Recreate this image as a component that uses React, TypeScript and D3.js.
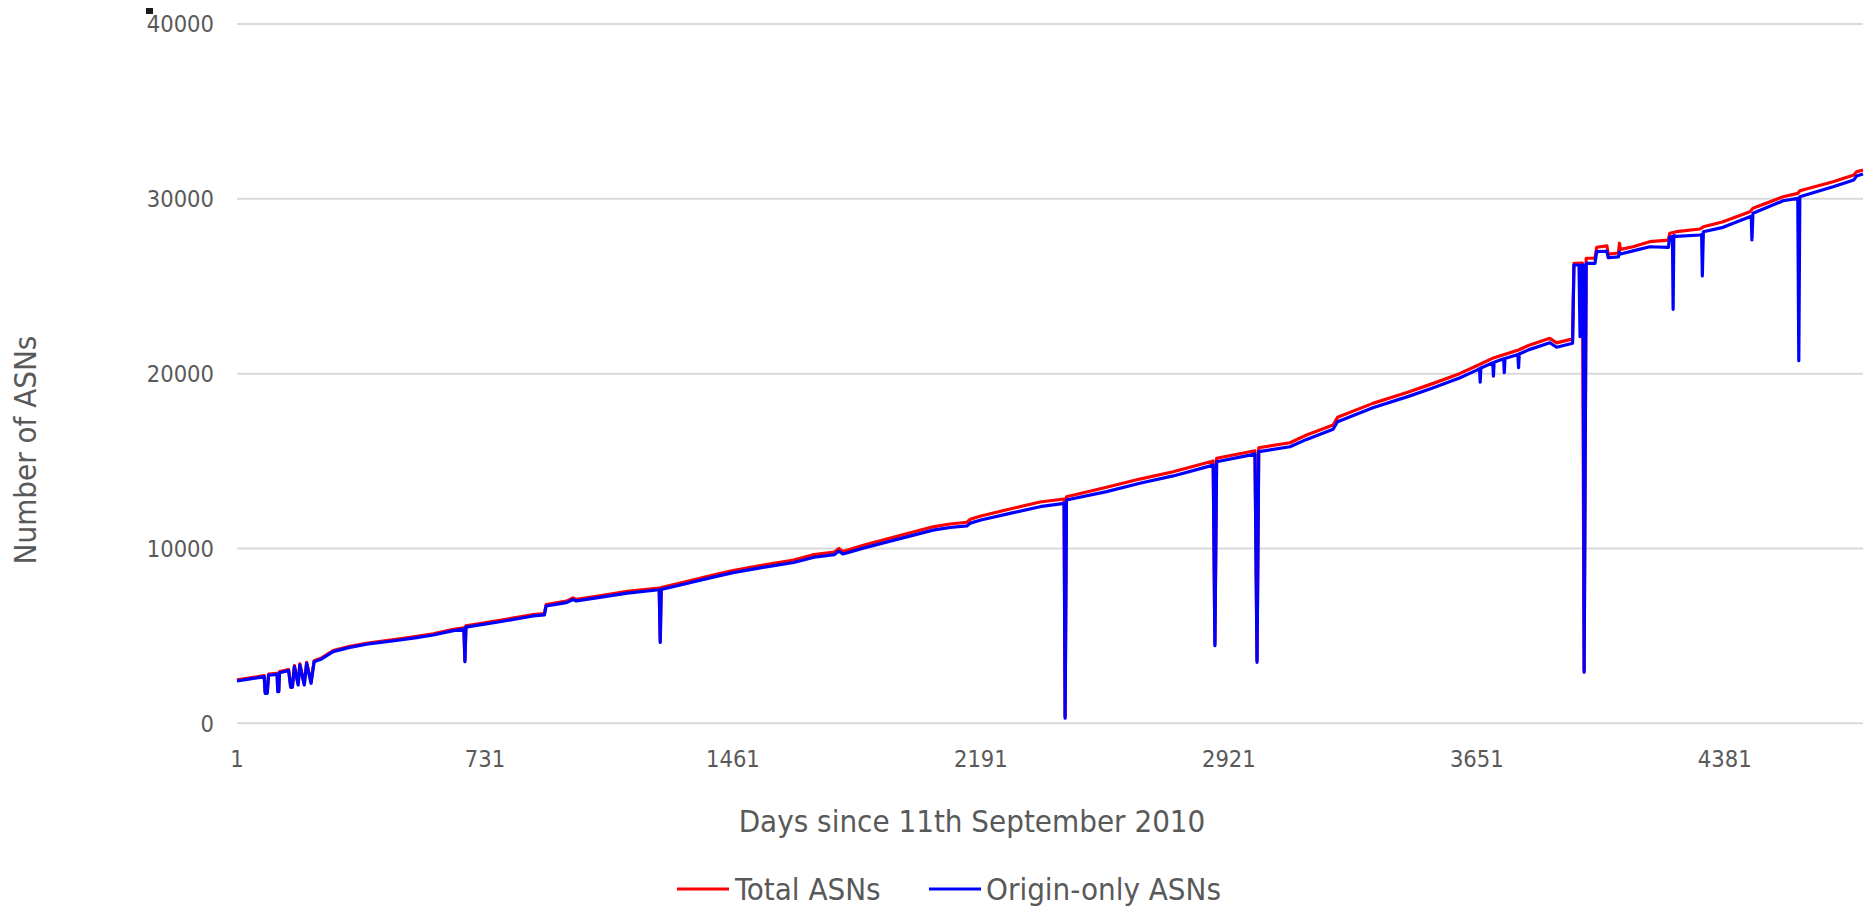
import React from "react";
import * as d3 from "d3";

// Days since 11th September 2010 -> number of ASNs
const originOnly: [number, number][] = [
  [1, 2420], [40, 2540], [81, 2666], [84, 1716], [90, 1716], [94, 2760], [119, 2800],
  [121, 1810], [124, 1810], [126, 2895], [153, 3010], [159, 2060], [164, 2060],
  [170, 3240], [181, 2190], [186, 3335], [199, 2190], [206, 3430], [219, 2290],
  [228, 3520], [250, 3680], [284, 4100], [330, 4330], [382, 4520], [430, 4640],
  [481, 4765], [530, 4900], [579, 5050], [638, 5300], [669, 5390], [672, 3520],
  [675, 5500], [775, 5810], [873, 6140], [906, 6200], [911, 6710], [971, 6900],
  [990, 7080], [1000, 7000], [1069, 7200], [1150, 7450], [1244, 7640], [1247, 4630],
  [1250, 7660], [1300, 7880], [1400, 8350], [1461, 8620], [1550, 8920], [1640, 9200],
  [1700, 9500], [1760, 9650], [1773, 9850], [1785, 9680], [1850, 10050], [1950, 10550],
  [2050, 11050], [2100, 11200], [2150, 11290], [2160, 11450], [2191, 11630],
  [2280, 12020], [2365, 12390], [2436, 12580], [2439, 290], [2443, 12770],
  [2561, 13250], [2659, 13730], [2757, 14150], [2875, 14770], [2880, 4440],
  [2885, 14960], [2998, 15400], [3004, 3490], [3009, 15540], [3101, 15820],
  [3150, 16240], [3228, 16820], [3241, 17250], [3345, 18050], [3450, 18700],
  [3521, 19180], [3600, 19750], [3651, 20200], [3659, 20280], [3661, 19510],
  [3663, 20320], [3698, 20620], [3700, 19860], [3702, 20650], [3730, 20850],
  [3732, 20060], [3734, 20870], [3772, 21100], [3774, 20340], [3776, 21120],
  [3803, 21360], [3866, 21770], [3886, 21510], [3933, 21740], [3937, 26215],
  [3952, 26215], [3955, 22110], [3958, 26215], [3964, 26215], [3967, 2920],
  [3973, 26310], [3999, 26310], [4004, 26980], [4034, 27000], [4038, 26630],
  [4068, 26680], [4071, 26950], [4074, 26840], [4111, 27020], [4160, 27260],
  [4215, 27220], [4219, 27800], [4227, 27850], [4229, 23680], [4231, 27900],
  [4239, 27850], [4308, 27930], [4313, 27950], [4315, 25585], [4318, 28120],
  [4376, 28370], [4455, 28980], [4459, 29000], [4461, 27650], [4464, 29170],
  [4553, 29890], [4596, 30030], [4599, 20740], [4602, 30120], [4700, 30690],
  [4761, 31080], [4769, 31300], [4788, 31420],
];

const totalAsns: [number, number][] = [
  [1, 2480], [40, 2600], [81, 2726], [84, 1776], [90, 1776], [94, 2820], [119, 2860],
  [121, 1870], [124, 1870], [126, 2955], [153, 3070], [159, 2120], [164, 2120],
  [170, 3300], [181, 2250], [186, 3395], [199, 2250], [206, 3490], [219, 2350],
  [228, 3580], [250, 3740], [284, 4160], [330, 4390], [382, 4580], [430, 4700],
  [481, 4830], [530, 4970], [579, 5120], [638, 5370], [669, 5460], [672, 3600],
  [675, 5570], [775, 5890], [873, 6220], [906, 6280], [911, 6790], [971, 6990],
  [990, 7170], [1000, 7090], [1069, 7290], [1150, 7550], [1244, 7740], [1247, 4700],
  [1250, 7760], [1300, 7990], [1400, 8470], [1461, 8740], [1550, 9050], [1640, 9340],
  [1700, 9650], [1760, 9800], [1773, 10000], [1785, 9830], [1850, 10210], [1950, 10730],
  [2050, 11240], [2100, 11400], [2150, 11500], [2160, 11670], [2191, 11860],
  [2280, 12270], [2365, 12660], [2436, 12830], [2439, 400], [2443, 12960],
  [2561, 13500], [2659, 13970], [2757, 14390], [2875, 15000], [2880, 4550],
  [2885, 15160], [2998, 15590], [3004, 3600], [3009, 15760], [3101, 16050],
  [3150, 16490], [3228, 17060], [3241, 17500], [3345, 18300], [3450, 18950],
  [3521, 19430], [3600, 20000], [3651, 20450], [3700, 20900], [3732, 21100],
  [3774, 21350], [3803, 21610], [3866, 22020], [3886, 21760], [3933, 21990],
  [3937, 26310], [3962, 26330], [3967, 3050], [3973, 26600], [3999, 26600],
  [4004, 27230], [4034, 27310], [4038, 26840], [4068, 26900], [4071, 27460],
  [4074, 27110], [4111, 27260], [4160, 27550], [4215, 27640], [4219, 28030],
  [4239, 28120], [4308, 28275], [4318, 28400], [4376, 28690], [4455, 29260],
  [4464, 29460], [4553, 30120], [4596, 30310], [4602, 30460], [4700, 30980],
  [4761, 31360], [4769, 31550], [4788, 31650],
];

const xTicks = [1, 731, 1461, 2191, 2921, 3651, 4381];
const yTicks = [0, 10000, 20000, 30000, 40000];
const seriesNames = ["Total ASNs", "Origin-only ASNs"];
const seriesColors = ["#ff0000", "#0000ff"];

const W = 1872;
const H = 908;
const FONT = "'DejaVu Sans Condensed', 'DejaVu Sans', sans-serif";
const TXT = "#595959";

export default function App() {
  const x = d3.scaleLinear().domain([1, 4788]).range([237, 1863]);
  const y = d3.scaleLinear().domain([0, 40000]).range([723.3, 24]);
  const line = d3
    .line<[number, number]>()
    .x((d) => x(d[0]))
    .y((d) => y(d[1]));

  return (
    <svg
      width={W}
      height={H}
      style={{ position: "absolute", left: 0, top: 0, background: "#fff" }}
      fontFamily={FONT}
      fontStretch="condensed"
    >
      <rect x={0} y={0} width={W} height={H} fill="#ffffff" />
      <rect x={146} y={8} width={7} height={6} fill="#1a1a1a" />
      {yTicks.map((t) => (
        <g key={t}>
          <line x1={237} x2={1863} y1={y(t)} y2={y(t)} stroke="#d9d9d9" strokeWidth={2} />
          <text x={214} y={y(t)} dy="0.35em" textAnchor="end" fontSize={23.5} fill={TXT}>
            {t}
          </text>
        </g>
      ))}
      {xTicks.map((t) => (
        <text key={t} x={x(t)} y={767} textAnchor="middle" fontSize={23.5} fill={TXT}>
          {t}
        </text>
      ))}
      <path
        d={line(totalAsns) || ""}
        fill="none"
        stroke={seriesColors[0]}
        strokeWidth={3.2}
        strokeLinejoin="round"
      />
      <path
        d={line(originOnly) || ""}
        fill="none"
        stroke={seriesColors[1]}
        strokeWidth={3.2}
        strokeLinejoin="round"
      />
      <text x={972} y={832} textAnchor="middle" fontSize={31} fill={TXT}>
        Days since 11th September 2010
      </text>
      <text
        transform="translate(36,450) rotate(-90)"
        textAnchor="middle"
        fontSize={31}
        fill={TXT}
      >
        Number of ASNs
      </text>
      <g>
        <line x1={677} x2={729} y1={889} y2={889} stroke={seriesColors[0]} strokeWidth={3} />
        <text x={735} y={889} dy="0.35em" fontSize={31} fill={TXT}>
          {seriesNames[0]}
        </text>
        <line x1={929} x2={981} y1={889} y2={889} stroke={seriesColors[1]} strokeWidth={3} />
        <text x={986} y={889} dy="0.35em" fontSize={31} fill={TXT}>
          {seriesNames[1]}
        </text>
      </g>
    </svg>
  );
}
